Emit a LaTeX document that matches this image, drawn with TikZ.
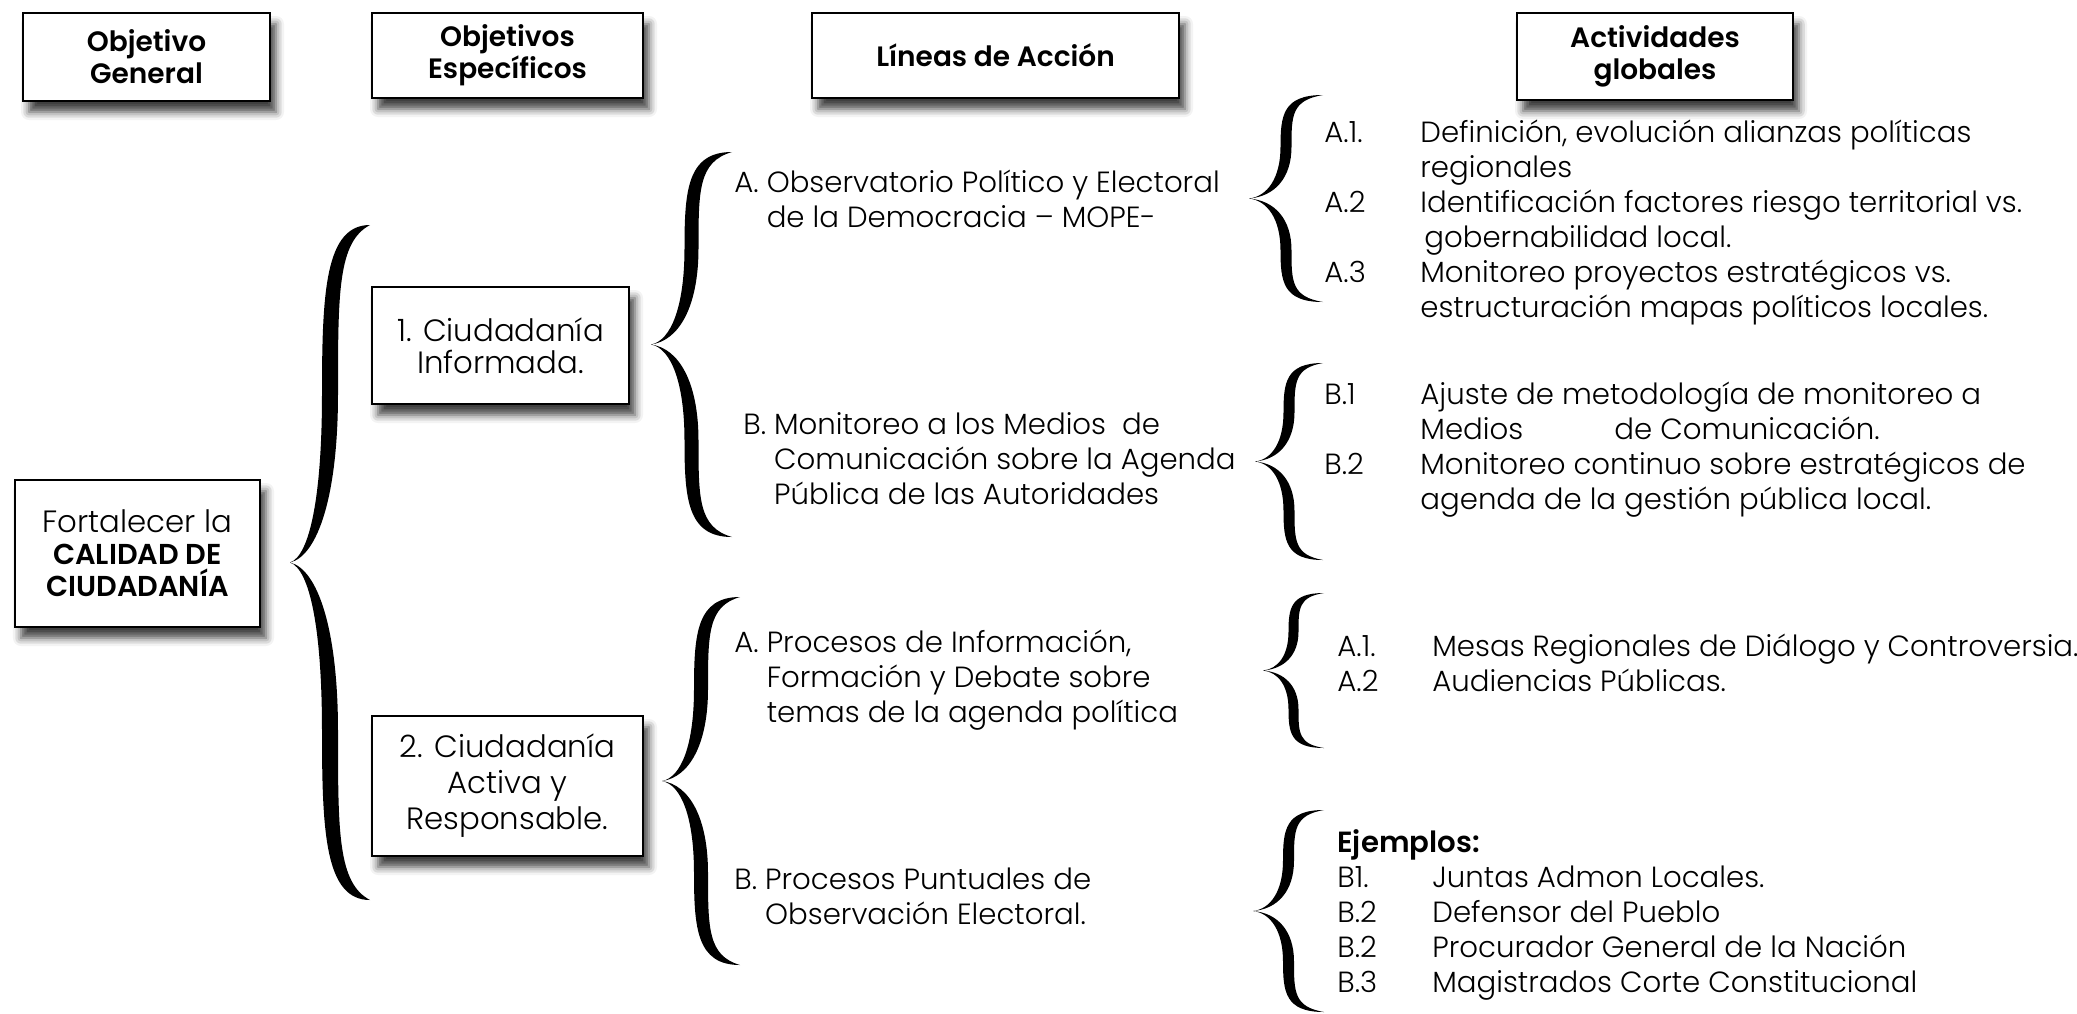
\documentclass[tikz,border=0pt]{standalone}
\usepackage{fontspec}
\IfFontExistsTF{Poppins Light}{\def\bodyFace{Poppins Light}}{\def\bodyFace{Poppins}}
\IfFontExistsTF{Poppins SemiBold}{\def\boldFace{Poppins SemiBold}}{\def\boldFace{Poppins Bold}}
\setmainfont{\bodyFace}[BoldFont=\boldFace]
\usetikzlibrary{calc, shadows.blur}
\newcommand{\bodyFont}{\fontsize{14.6}{17.5}\selectfont}
\newcommand{\headFont}{\fontsize{14}{16}\selectfont\bfseries}
\tikzset{
    boxShadow/.style={blur shadow={shadow xshift=3pt, shadow yshift=-5.5pt, shadow blur radius=4pt, shadow opacity=75}},
    headBox/.style={draw, line width=1.2pt, fill=white, boxShadow, align=center, inner sep=0pt, font=\headFont},
    objBox/.style={draw, line width=1.2pt, fill=white, boxShadow, align=center, inner sep=0pt, font=\fontsize{15.4}{16}\selectfont},
    lineText/.style={anchor=base west, inner sep=0pt, font=\bodyFont},
    actText/.style={anchor=base west, inner sep=0pt, font=\bodyFont},
}
% calligraphic brace: #1 end x, #2 top y, #3 bottom y, #4 tip x, #5 thickness
\newcommand{\drawBrace}[5]{
    \pgfmathsetmacro{\brxe}{#1}\pgfmathsetmacro{\bryt}{#2}\pgfmathsetmacro{\bryb}{#3}
    \pgfmathsetmacro{\brxt}{#4}\pgfmathsetmacro{\brw}{#5}
    \pgfmathsetmacro{\brym}{(\bryt+\bryb)/2}
    \pgfmathsetmacro{\brh}{(\bryb-\bryt)/2}
    \pgfmathsetmacro{\brd}{\brxe-\brxt}
    \pgfmathsetmacro{\brxs}{(\brxe+\brxt)/2}
    \pgfmathsetmacro{\brxo}{\brxs-\brw/2}
    \pgfmathsetmacro{\brxi}{\brxs+\brw/2}
    \pgfmathsetmacro{\brxa}{\brxs-0.3*\brw}
    \pgfmathsetmacro{\brxp}{\brxt+0.25*\brd}
    \pgfmathsetmacro{\brxq}{\brxt+0.35*\brd}
    \pgfmathsetmacro{\bryu}{\bryt+0.5*\brh}
    \pgfmathsetmacro{\bryl}{\brym+0.5*\brh}
    \fill (\brxe,\bryt) .. controls (\brxa,\bryt) and (\brxo,{\bryt+0.2*\brh}) .. (\brxo,\bryu)
        .. controls (\brxo,{\bryt+0.8*\brh}) and (\brxp,{\brym-0.02*\brh}) .. (\brxt,\brym)
        .. controls (\brxp,{\brym+0.02*\brh}) and (\brxo,{\brym+0.2*\brh}) .. (\brxo,\bryl)
        .. controls (\brxo,{\bryb-0.2*\brh}) and (\brxa,\bryb) .. (\brxe,\bryb)
        .. controls (\brxi,{\bryb-0.05*\brh}) and (\brxi,{\bryb-0.2*\brh}) .. (\brxi,\bryl)
        .. controls (\brxi,{\brym+0.2*\brh}) and (\brxq,{\brym+0.02*\brh}) .. (\brxt,\brym)
        .. controls (\brxq,{\brym-0.02*\brh}) and (\brxi,{\brym-0.2*\brh}) .. (\brxi,\bryu)
        .. controls (\brxi,{\bryt+0.2*\brh}) and (\brxi,{\bryt+0.05*\brh}) .. (\brxe,\bryt) -- cycle;
}

\begin{document}
\begin{tikzpicture}[x=0.5pt, y=-0.5pt]
    \useasboundingbox (0,0) rectangle (2077,1013);

    % column headers
    \node[headBox, minimum width=123.5pt, minimum height=44pt] (hGeneral) at (146.5,57) {Objetivo\\General};
    \node[headBox, minimum width=135.5pt, minimum height=42.5pt] (hSpecific) at (507.5,55.5) {Objetivos\\Específicos};
    \node[headBox, minimum width=183.5pt, minimum height=42.5pt] (hLines) at (995.5,55.5) {Líneas de Acción};
    \node[headBox, minimum width=138pt, minimum height=43.5pt] (hActs) at (1655,56.5) {Actividades\\globales};

    % objectives
    \node[objBox, minimum width=122.5pt, minimum height=73.5pt, font=\fontsize{15.4}{16}\selectfont] (general) at (137.5,553.5) {Fortalecer la\\\textbf{\fontsize{14.4}{16}\selectfont CALIDAD DE}\\\textbf{\fontsize{14.4}{16}\selectfont CIUDADANÍA}};
    \node[objBox, minimum width=128.5pt, minimum height=58.5pt] (spec1) at (500.5,345.5) {1. Ciudadanía\\Informada.};
    \node[objBox, minimum width=135.5pt, minimum height=70pt, font=\fontsize{15.4}{18}\selectfont] (spec2) at (507.5,786) {2. Ciudadanía\\Activa y\\Responsable.};

    % braces
    \drawBrace{370}{225}{900}{290}{16}
    \drawBrace{732}{152}{537}{651}{14}
    \drawBrace{740}{597}{965}{662}{14}
    \drawBrace{1323}{95}{302}{1249}{11}
    \drawBrace{1323}{363}{560}{1255}{11}
    \drawBrace{1324}{593}{748}{1263}{10}
    \drawBrace{1324}{810}{1012}{1253}{11}

    % lines of action
    \node[lineText] (lineA) at (734,192) {\begin{tabular}[t]{@{}l@{\ }l@{}}A. & Observatorio Político y Electoral\\ & de la Democracia – MOPE-\end{tabular}};
    \node[lineText] (lineB) at (743,434) {\begin{tabular}[t]{@{}l@{\ }l@{}}B. & Monitoreo a los Medios~ de\\ & Comunicación sobre la Agenda\\ & Pública de las Autoridades\end{tabular}};
    \node[lineText] (lineC) at (734,652) {\begin{tabular}[t]{@{}l@{\ }l@{}}A. & Procesos de Información,\\ & Formación y Debate sobre\\ & temas de la agenda política\end{tabular}};
    \node[lineText] (lineD) at (734,889) {\begin{tabular}[t]{@{}l@{\ }l@{}}B. & Procesos Puntuales de\\ & Observación Electoral.\end{tabular}};

    % activities
    \node[actText] (actA) at (1324,142) {\begin{tabular}[t]{@{}p{48pt}@{}l@{}}
        A.1. & Definición, evolución alianzas políticas\\
             & regionales\\
        A.2  & Identificación factores riesgo territorial vs.\\
             & \hspace{2pt}gobernabilidad local.\\
        A.3  & Monitoreo proyectos estratégicos vs.\\
             & estructuración mapas políticos locales.
    \end{tabular}};
    \node[actText] (actB) at (1324,404) {\begin{tabular}[t]{@{}p{48pt}@{}l@{}}
        B.1 & Ajuste de metodología de monitoreo a\\
            & \makebox[97pt][l]{Medios}de Comunicación.\\
        B.2 & Monitoreo continuo sobre estratégicos de\\
            & agenda de la gestión pública local.
    \end{tabular}};
    \node[actText] (actC) at (1337,656) {\begin{tabular}[t]{@{}p{47.5pt}@{}l@{}}
        A.1. & Mesas Regionales de Diálogo y Controversia.\\
        A.2  & Audiencias Públicas.
    \end{tabular}};
    \node[actText] (actD) at (1337,852) {\begin{tabular}[t]{@{}p{47.5pt}@{}l@{}}
        \multicolumn{2}{@{}l@{}}{\textbf{Ejemplos:}}\\
        B1.  & Juntas Admon Locales.\\
        B.2  & Defensor del Pueblo\\
        B.2  & Procurador General de la Nación\\
        B.3  & Magistrados Corte Constitucional
    \end{tabular}};

\end{tikzpicture}
\end{document}
